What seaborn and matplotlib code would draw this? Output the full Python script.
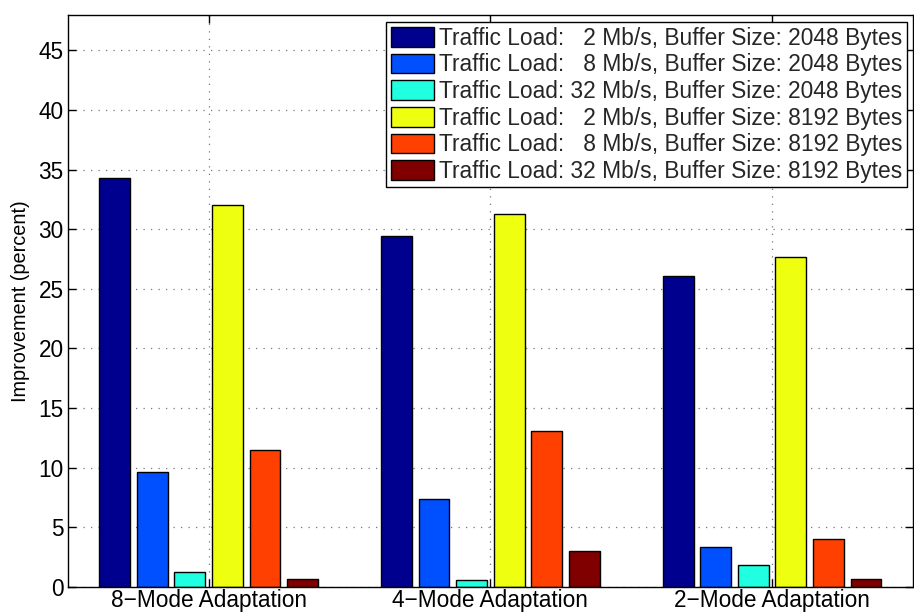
import pandas as pd
import matplotlib
matplotlib.use("Agg")
import matplotlib.pyplot as plt
import seaborn as sns

# categories and series
modes = ['8\u2212Mode Adaptation', '4\u2212Mode Adaptation', '2\u2212Mode Adaptation']
series = [
    'Traffic Load:   2 Mb/s, Buffer Size: 2048 Bytes',
    'Traffic Load:   8 Mb/s, Buffer Size: 2048 Bytes',
    'Traffic Load: 32 Mb/s, Buffer Size: 2048 Bytes',
    'Traffic Load:   2 Mb/s, Buffer Size: 8192 Bytes',
    'Traffic Load:   8 Mb/s, Buffer Size: 8192 Bytes',
    'Traffic Load: 32 Mb/s, Buffer Size: 8192 Bytes',
]
load2_buf2048 = [34.3, 29.4, 26.1]
load8_buf2048 = [9.6, 7.4, 3.3]
load32_buf2048 = [1.2, 0.6, 1.85]
load2_buf8192 = [32.0, 31.25, 27.65]
load8_buf8192 = [11.45, 13.05, 3.97]
load32_buf8192 = [0.64, 3.0, 0.65]

colors = ['#00008f', '#0050ff', '#20ffdf', '#efff10', '#ff4000', '#800000']

values = [load2_buf2048, load8_buf2048, load32_buf2048,
          load2_buf8192, load8_buf8192, load32_buf8192]
rows = []
for s, vals in zip(series, values):
    for m, v in zip(modes, vals):
        rows.append({'mode': m, 'series': s, 'value': v})
df = pd.DataFrame(rows)

sns.set_theme(style='white')
plt.rcParams['font.family'] = ['Liberation Sans', 'DejaVu Sans']

fig = plt.figure(figsize=(9.14, 6.16), dpi=100)
ax = fig.add_axes([0.0741, 0.0476, 0.9248, 0.9285])

sns.barplot(data=df, x='mode', y='value', hue='series', order=modes,
            hue_order=series, palette=colors, width=0.8, gap=0.18,
            edgecolor='black', linewidth=1.0, saturation=1, ax=ax)

ax.set_xlim(-0.5, 2.5)
ax.set_ylim(0, 48)
ax.set_yticks(range(0, 50, 5))
ax.set_xlabel('')
ax.set_ylabel('Improvement (percent)', fontsize=14.3, color='black', labelpad=6)
ax.tick_params(axis='both', which='both', direction='in', length=6,
               width=1, top=True, right=True, bottom=True, left=True,
               labelsize=16.3, labelcolor='black', color='black', pad=3)
ax.tick_params(axis='x', pad=2)
ax.grid(True, color='#777777', linestyle=(0, (1, 5)), linewidth=0.9)
ax.set_axisbelow(True)
for sp in ax.spines.values():
    sp.set_color('black')
    sp.set_linewidth(1.0)

leg = ax.legend(loc='upper right', bbox_to_anchor=(0.9925, 0.987),
                fontsize=16.4, frameon=True, fancybox=False, framealpha=1,
                edgecolor='black', handlelength=1.9, handleheight=0.95,
                handletextpad=0.2, labelspacing=0.16, borderpad=0.2,
                borderaxespad=0)
leg.get_frame().set_linewidth(1.0)

fig.savefig('out.png', dpi=100)
